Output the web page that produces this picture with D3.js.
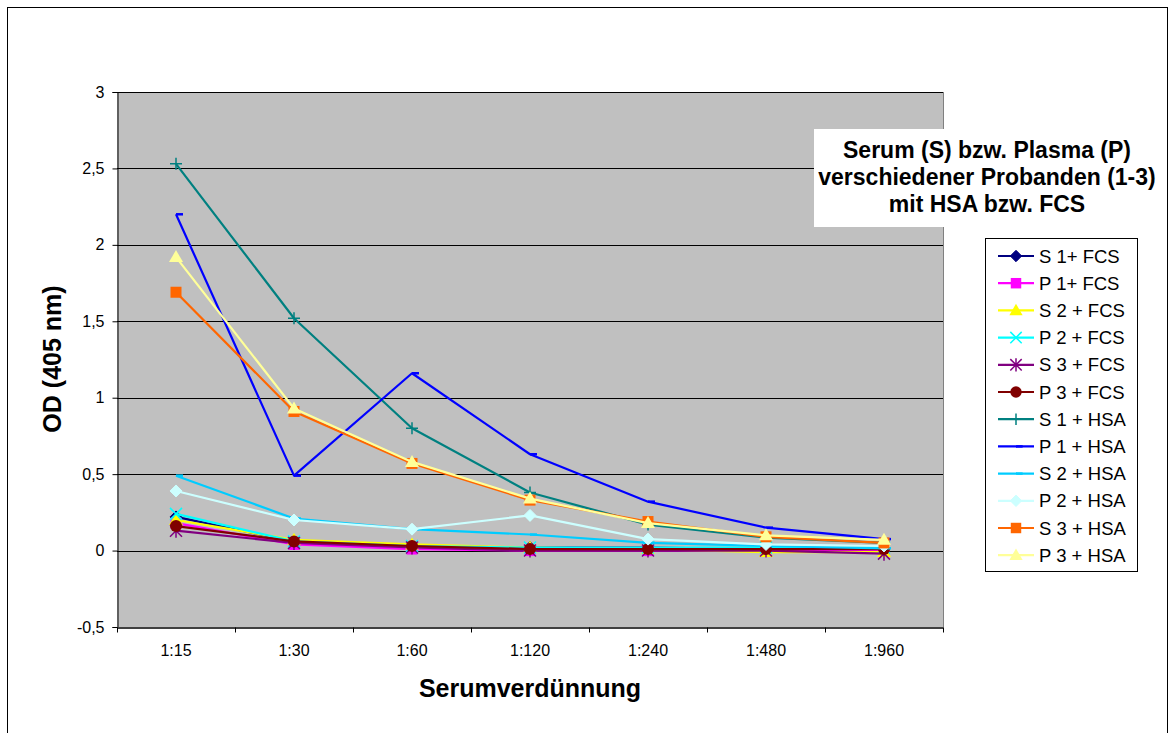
<!DOCTYPE html>
<html>
<head>
<meta charset="utf-8">
<script src="https://cdn.jsdelivr.net/npm/d3@7"></script>
<style>
  html, body { margin: 0; padding: 0; background: #fff; }
  svg { display: block; font-family: Arial, "Liberation Sans", sans-serif; }
</style>
</head>
<body>
<svg id="chart" width="1176" height="733"></svg>
<script>
// Dilution steps on the x axis
const dilutions = ["1:15", "1:30", "1:60", "1:120", "1:240", "1:480", "1:960"];
const yTicks = [-0.5, 0, 0.5, 1, 1.5, 2, 2.5, 3];

// OD values (405 nm) per sample
const s1FCS = [0.22, 0.06, 0.03, 0.02, 0.02, 0.01, 0.01];
const p1FCS = [0.18, 0.04, 0.01, 0.00, 0.00, 0.00, 0.00];
const s2FCS = [0.20, 0.07, 0.04, 0.02, 0.01, -0.01, -0.01];
const p2FCS = [0.24, 0.06, 0.03, 0.02, 0.02, 0.02, 0.02];
const s3FCS = [0.13, 0.05, 0.02, 0.00, 0.00, 0.00, -0.02];
const p3FCS = [0.16, 0.06, 0.03, 0.01, 0.01, 0.01, 0.01];
const s1HSA = [2.53, 1.52, 0.80, 0.38, 0.17, 0.085, 0.05];
const p1HSA = [2.20, 0.49, 1.16, 0.63, 0.32, 0.15, 0.075];
const s2HSA = [0.49, 0.21, 0.14, 0.105, 0.05, 0.03, 0.015];
const p2HSA = [0.39, 0.20, 0.14, 0.23, 0.075, 0.04, 0.03];
const s3HSA = [1.69, 0.91, 0.57, 0.33, 0.19, 0.09, 0.05];
const p3HSA = [1.92, 0.93, 0.58, 0.34, 0.18, 0.10, 0.07];

const seriesNames = ["S 1+ FCS", "P 1+ FCS", "S 2 + FCS", "P 2 + FCS", "S 3 + FCS", "P 3 + FCS",
                     "S 1 + HSA", "P 1 + HSA", "S 2 + HSA", "P 2 + HSA", "S 3 + HSA", "P 3 + HSA"];
const seriesValues = [s1FCS, p1FCS, s2FCS, p2FCS, s3FCS, p3FCS, s1HSA, p1HSA, s2HSA, p2HSA, s3HSA, p3HSA];
const seriesColors = ["#000080", "#FF00FF", "#FFFF00", "#00FFFF", "#800080", "#800000",
                      "#008080", "#0000FF", "#00CCFF", "#CCFFFF", "#FF6600", "#FFFF99"];
const seriesMarkers = ["diamond", "square", "triangle", "x", "star", "circle",
                       "plus", "dash", "dash", "diamond", "square", "triangle"];

const svg = d3.select("#chart");

// Chart frame
svg.append("rect").attr("x", 7.5).attr("y", 7.5).attr("width", 1160).attr("height", 740)
  .attr("fill", "#fff").attr("stroke", "#000").attr("stroke-width", 1);

const plot = { left: 117, right: 943, top: 92, bottom: 627 };

const x = d3.scaleBand().domain(dilutions).range([plot.left, plot.right]);
const y = d3.scaleLinear().domain([-0.5, 3]).range([plot.bottom, plot.top]);

// Plot area
svg.append("rect").attr("x", plot.left).attr("y", plot.top)
  .attr("width", plot.right - plot.left).attr("height", plot.bottom - plot.top)
  .attr("fill", "#C0C0C0");

// Horizontal gridlines
svg.append("g").selectAll("line").data(yTicks.filter(t => t > -0.5)).join("line")
  .attr("x1", plot.left).attr("x2", plot.right)
  .attr("y1", d => Math.round(y(d)) + 0.5).attr("y2", d => Math.round(y(d)) + 0.5)
  .attr("stroke", "#000").attr("stroke-width", 1);

// Right edge of plot area
svg.append("line").attr("x1", plot.right + 0.5).attr("x2", plot.right + 0.5)
  .attr("y1", plot.top).attr("y2", plot.bottom).attr("stroke", "#808080");

// Y axis
const yAxis = d3.axisLeft(y).tickValues(yTicks).tickSize(5).tickPadding(8)
  .tickFormat(d => String(d).replace(".", ","));
const gy = svg.append("g").attr("transform", `translate(${plot.left + 0.5},0)`).call(yAxis);
gy.select(".domain").attr("stroke", "#000");
gy.selectAll(".tick line").attr("stroke", "#000");
gy.selectAll("text").attr("font-size", 16).attr("fill", "#000")
  .attr("font-family", "Arial, 'Liberation Sans', sans-serif");

// X axis with ticks between categories
const xAxis = d3.axisBottom(x).tickSize(0).tickPadding(17);
const gx = svg.append("g").attr("transform", `translate(0,${plot.bottom + 0.5})`).call(xAxis);
gx.select(".domain").attr("stroke", "#404040").attr("stroke-width", 2);
gx.selectAll("text").attr("font-size", 16).attr("fill", "#000")
  .attr("font-family", "Arial, 'Liberation Sans', sans-serif");
gx.append("g").selectAll("line").data(d3.range(dilutions.length + 1)).join("line")
  .attr("x1", i => Math.round(plot.left + i * x.step()) + 0.5)
  .attr("x2", i => Math.round(plot.left + i * x.step()) + 0.5)
  .attr("y1", 0).attr("y2", 5).attr("stroke", "#000");

// Axis titles
svg.append("text").attr("x", 530).attr("y", 697).attr("text-anchor", "middle")
  .attr("font-size", 25).attr("font-weight", "bold").text("Serumverdünnung");
svg.append("text").attr("transform", "translate(61,359) rotate(-90)").attr("text-anchor", "middle")
  .attr("font-size", 25).attr("font-weight", "bold").text("OD (405 nm)");

// Marker shapes
function drawMarker(g, type, color, cx, cy, scale = 1) {
  const s = scale;
  switch (type) {
    case "diamond":
      g.append("path").attr("d", `M${cx},${cy - 6 * s}L${cx + 6 * s},${cy}L${cx},${cy + 6 * s}L${cx - 6 * s},${cy}Z`)
        .attr("fill", color).attr("stroke", color);
      break;
    case "square":
      g.append("rect").attr("x", cx - 5.5 * s).attr("y", cy - 5.5 * s)
        .attr("width", 11 * s).attr("height", 11 * s).attr("fill", color);
      break;
    case "triangle":
      g.append("path").attr("d", `M${cx},${cy - 7 * s}L${cx + 7 * s},${cy + 5 * s}L${cx - 7 * s},${cy + 5 * s}Z`)
        .attr("fill", color);
      break;
    case "circle":
      g.append("circle").attr("cx", cx).attr("cy", cy).attr("r", 6 * s).attr("fill", color);
      break;
    case "x":
      g.append("path").attr("d", `M${cx - 6 * s},${cy - 6 * s}L${cx + 6 * s},${cy + 6 * s}M${cx - 6 * s},${cy + 6 * s}L${cx + 6 * s},${cy - 6 * s}`)
        .attr("stroke", color).attr("stroke-width", 1.5).attr("fill", "none");
      break;
    case "star":
      g.append("path").attr("d", `M${cx - 6 * s},${cy - 6 * s}L${cx + 6 * s},${cy + 6 * s}M${cx - 6 * s},${cy + 6 * s}L${cx + 6 * s},${cy - 6 * s}M${cx},${cy - 7 * s}L${cx},${cy + 7 * s}`)
        .attr("stroke", color).attr("stroke-width", 1.5).attr("fill", "none");
      break;
    case "plus":
      g.append("path").attr("d", `M${cx - 6 * s},${cy}L${cx + 6 * s},${cy}M${cx},${cy - 6 * s}L${cx},${cy + 6 * s}`)
        .attr("stroke", color).attr("stroke-width", 1.5).attr("fill", "none");
      break;
    case "dash":
      g.append("path").attr("d", `M${cx},${cy}L${cx + 7 * s},${cy}`)
        .attr("stroke", color).attr("stroke-width", 2.5).attr("fill", "none");
      break;
  }
}

// Series lines and markers
const line = d3.line().x((d, i) => x(dilutions[i]) + x.bandwidth() / 2).y(d => y(d));
const series = svg.append("g");
seriesValues.forEach((vals, k) => {
  const g = series.append("g");
  g.append("path").datum(vals).attr("d", line)
    .attr("fill", "none").attr("stroke", seriesColors[k]).attr("stroke-width", 2.2)
    .attr("stroke-linejoin", "round");
  vals.forEach((v, i) => drawMarker(g, seriesMarkers[k], seriesColors[k],
    x(dilutions[i]) + x.bandwidth() / 2, y(v)));
});

// Title box
svg.append("rect").attr("x", 814).attr("y", 129).attr("width", 346).attr("height", 98).attr("fill", "#fff");
const titleLines = ["Serum (S) bzw. Plasma (P)", "verschiedener Probanden (1-3)", "mit HSA bzw. FCS"];
svg.append("g").selectAll("text").data(titleLines).join("text")
  .attr("x", 987).attr("y", (d, i) => 158 + i * 27).attr("text-anchor", "middle")
  .attr("font-size", 23).attr("font-weight", "bold").text(d => d);

// Legend
const legend = svg.append("g");
legend.append("rect").attr("x", 985.5).attr("y", 238.5).attr("width", 152).attr("height", 333)
  .attr("fill", "#fff").attr("stroke", "#000");
seriesNames.forEach((name, k) => {
  const ly = 256 + k * 27.2;
  const g = legend.append("g");
  g.append("line").attr("x1", 998).attr("x2", 1034).attr("y1", ly).attr("y2", ly)
    .attr("stroke", seriesColors[k]).attr("stroke-width", 2.2);
  drawMarker(g, seriesMarkers[k], seriesColors[k], 1016, ly, 0.95);
  g.append("text").attr("x", 1039).attr("y", ly + 6.5).attr("font-size", 18.5).text(name);
});
</script>
</body>
</html>
